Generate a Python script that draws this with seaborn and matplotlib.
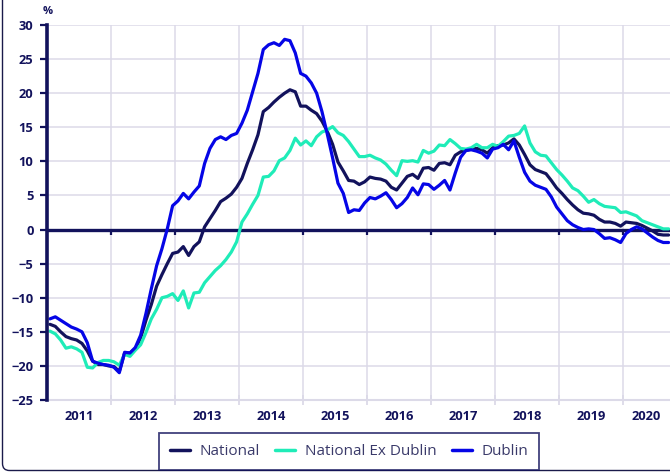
import numpy as np
import pandas as pd
import seaborn as sns
import matplotlib
matplotlib.use("Agg")
import matplotlib.pyplot as plt
from matplotlib.patches import FancyBboxPatch
from matplotlib.transforms import IdentityTransform
from matplotlib.ticker import FixedLocator, NullFormatter

# Estilo
sns.set_theme(style="white")
plt.rcParams['font.family'] = ['Open Sans', 'DejaVu Sans']

# Cores
NAVY = "#12125c"
AQUA = "#1fecb8"
BLUE = "#0505e6"
GRID = "#dcdae8"

# Dados mensais (variação anual %), jan/2011 a set/2020
anos = list(range(2011, 2021))

national = [
    -13.9, -14.2, -15.0, -15.7, -16.0, -16.2, -16.7, -17.8, -19.3, -19.8, -19.8, -20.0,
    -20.1, -20.8, -18.1, -18.1, -17.5, -15.9, -13.3, -11.0, -8.3, -6.6, -5.0, -3.5,
    -3.3, -2.5, -3.8, -2.5, -1.8, 0.4, 1.6, 2.8, 4.1, 4.6, 5.2, 6.2,
    7.5, 9.7, 11.7, 13.9, 17.3, 17.9, 18.7, 19.4, 20.0, 20.5, 20.2, 18.1,
    18.1, 17.5, 17.0, 15.9, 14.4, 12.5, 9.9, 8.6, 7.2, 7.1, 6.6, 7.0,
    7.7, 7.5, 7.4, 7.1, 6.2, 5.8, 6.8, 7.8, 8.1, 7.5, 9.0, 9.1,
    8.7, 9.7, 9.8, 9.5, 10.9, 11.4, 11.6, 11.8, 11.9, 11.7, 11.2, 12.0,
    12.3, 12.4, 12.7, 13.3, 12.4, 11.0, 9.5, 8.8, 8.5, 8.2, 7.2, 6.1,
    5.3, 4.4, 3.6, 2.9, 2.4, 2.3, 2.1, 1.5, 1.1, 1.1, 0.9, 0.5,
    1.1, 1.0, 0.9, 0.6, 0.2, -0.2, -0.7, -0.8, -0.8,
]

ex_dublin = [
    -14.9, -15.3, -16.2, -17.4, -17.2, -17.5, -18.0, -20.2, -20.3, -19.5, -19.2, -19.2,
    -19.4, -19.9, -18.3, -18.6, -17.7, -16.9, -15.1, -13.1, -11.7, -10.0, -9.8, -9.4,
    -10.4, -9.0, -11.5, -9.3, -9.2, -7.8, -6.9, -6.0, -5.3, -4.4, -3.3, -1.8,
    1.1, 2.3, 3.7, 5.0, 7.7, 7.8, 8.6, 10.1, 10.5, 11.6, 13.4, 12.4,
    13.0, 12.3, 13.6, 14.3, 14.6, 15.1, 14.2, 13.8, 12.9, 11.8, 10.7, 10.7,
    10.9, 10.5, 10.2, 9.6, 8.7, 7.9, 10.1, 10.0, 10.1, 9.9, 11.6, 11.2,
    11.5, 12.4, 12.3, 13.2, 12.6, 11.9, 11.8, 12.0, 12.5, 12.0, 12.0, 12.5,
    12.2, 12.9, 13.7, 13.8, 14.1, 15.2, 12.7, 11.4, 10.9, 10.8, 9.8, 8.8,
    8.0, 7.1, 6.1, 5.7, 4.9, 4.0, 4.4, 3.8, 3.4, 3.3, 3.2, 2.5,
    2.6, 2.3, 2.0, 1.3, 1.0, 0.7, 0.4, 0.1, 0.1,
]

dublin = [
    -13.1, -12.8, -13.3, -13.8, -14.3, -14.6, -15.0, -16.6, -19.3, -19.6, -19.8, -19.9,
    -20.2, -21.0, -18.0, -18.1, -17.3, -15.5, -12.3, -8.7, -5.3, -2.8, 0.1, 3.5,
    4.2, 5.3, 4.5, 5.5, 6.4, 9.7, 11.9, 13.2, 13.6, 13.2, 13.8, 14.1,
    15.6, 17.5, 20.2, 22.9, 26.4, 27.1, 27.4, 27.0, 27.9, 27.7, 25.9, 22.9,
    22.5, 21.5, 20.0, 17.3, 14.0, 10.5, 6.8, 5.3, 2.5, 2.9, 2.8, 3.9,
    4.7, 4.5, 4.9, 5.4, 4.4, 3.2, 3.8, 4.7, 6.1, 5.1, 6.7, 6.6,
    5.9, 6.5, 7.2, 5.8, 8.3, 10.6, 11.6, 11.7, 11.5, 11.2, 10.5, 11.8,
    12.0, 12.5, 11.7, 13.0, 10.6, 8.4, 7.1, 6.5, 6.2, 5.9, 4.8, 3.3,
    2.3, 1.3, 0.7, 0.3, 0.0, 0.1, 0.0, -0.6, -1.3, -1.2, -1.5, -1.9,
    -0.6, 0.0, 0.4, 0.1, -0.5, -1.1, -1.6, -1.9, -1.9,
]

series = ["National", "National Ex Dublin", "Dublin"]
cores = [NAVY, AQUA, BLUE]

# Eixo x em anos fracionários (meio do mês)
n = len(national)
tempo = 2011 + (np.arange(n) + 0.5) / 12

dados = pd.DataFrame({
    "Tempo": np.tile(tempo, 3),
    "Valor": national + ex_dublin + dublin,
    "Serie": np.repeat(series, n),
})

fig = plt.figure(figsize=(6.7, 4.72), dpi=100)
ax = fig.add_axes([47.3 / 670, 72 / 472, 622.7 / 670, 375 / 472])

sns.lineplot(data=dados, x="Tempo", y="Valor", hue="Serie", hue_order=series,
             palette=cores, estimator=None, linewidth=2.3, ax=ax, legend=True)
handles, labels = ax.get_legend_handles_labels()
ax.get_legend().remove()

ax.set_xlim(2011, 2020.73)
ax.set_ylim(-25, 30)
ax.set_xlabel("")
ax.set_ylabel("")

# Grade
ax.set_yticks(np.arange(-25, 31, 5))
ax.xaxis.set_major_locator(FixedLocator(anos[1:]))
ax.xaxis.set_major_formatter(NullFormatter())
pos_rotulos = [a + 0.5 for a in anos[:-1]] + [2020.35]
ax.xaxis.set_minor_locator(FixedLocator(pos_rotulos))
ax.set_xticklabels([str(a) for a in anos], minor=True)
ax.grid(True, axis="both", which="major", color=GRID, linewidth=1.1, zorder=0)
ax.set_axisbelow(True)

for s in ["top", "right"]:
    ax.spines[s].set_visible(False)
ax.spines["left"].set_color(NAVY)
ax.spines["left"].set_linewidth(2.6)
ax.spines["left"].set_zorder(5)
ax.spines["bottom"].set_color(GRID)
ax.spines["bottom"].set_linewidth(1.5)

ax.tick_params(axis="y", direction="out", length=5, width=1.6, color=NAVY,
               labelcolor=NAVY, labelsize=9.3, pad=5, left=True)
ax.tick_params(axis="x", which="major", direction="inout", length=7, width=1.3,
               color=GRID, bottom=True)
ax.tick_params(axis="x", which="minor", length=0, labelcolor=NAVY,
               labelsize=9.3, pad=7)
for t in ax.get_yticklabels() + ax.get_xticklabels(minor=True):
    t.set_fontweight("bold")

# Linha do zero com pequenas marcações para baixo nos anos
ax.axhline(0, color=NAVY, linewidth=2.4, zorder=1.5)
ax.vlines(anos[1:], -0.75, 0, color=NAVY, linewidth=1.6, zorder=1.5)

fig.text(47.3 / 670, 1 - 11 / 472, "%", ha="center", va="center",
         fontsize=8, fontweight="bold", color=NAVY)

# Legenda
leg = fig.legend(handles, labels, loc="center", bbox_to_anchor=(349 / 670, 1 - 451.5 / 472),
                 ncol=3, frameon=True, fancybox=False, fontsize=11,
                 handlelength=1.3, handletextpad=0.65, columnspacing=1.0,
                 borderpad=0.7, labelcolor="#3a3a6a")
leg.get_frame().set_edgecolor(NAVY)
leg.get_frame().set_linewidth(1.3)
for h in leg.get_lines():
    h.set_linewidth(2.5)

# Moldura do cartão
moldura = FancyBboxPatch((2.5, 1.5), 900, 700, boxstyle="round,pad=0,rounding_size=7",
                         transform=IdentityTransform(), facecolor="none",
                         edgecolor="#1a1a4a", linewidth=1.0)
fig.add_artist(moldura)

fig.savefig("out.png", dpi=100)
